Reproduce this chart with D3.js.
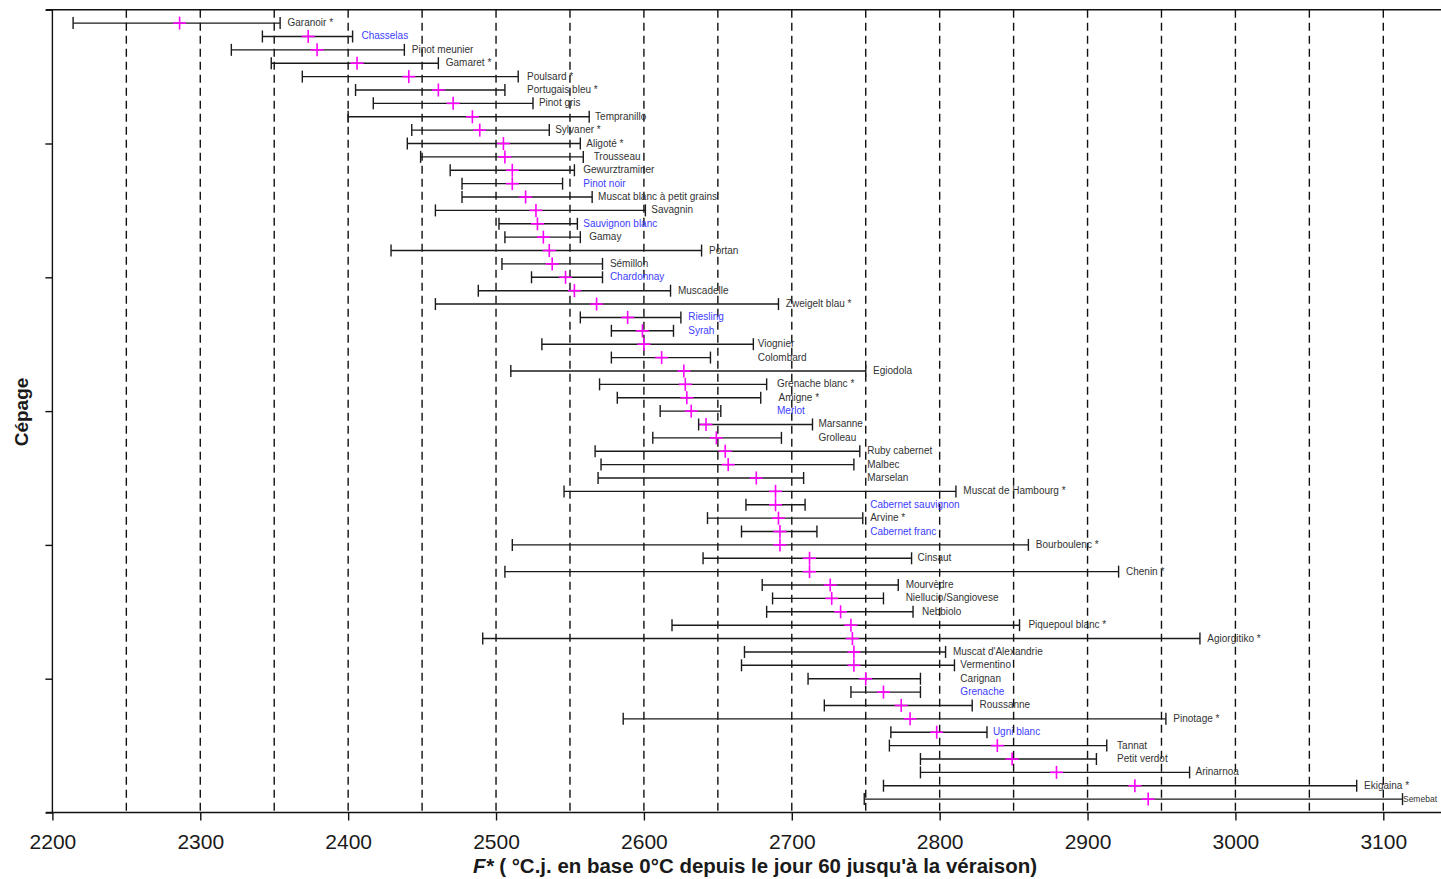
<!DOCTYPE html>
<html>
<head>
<meta charset="utf-8">
<script src="https://cdn.jsdelivr.net/npm/d3@7"></script>
<style>
  html, body { margin: 0; padding: 0; background: #ffffff; }
  svg { display: block; }
  text { font-family: "Liberation Sans", Arial, Helvetica, sans-serif; }
</style>
</head>
<body>
<svg id="chart" width="1441" height="879"></svg>
<script>
// Grape varieties, ordered from earliest to latest véraison (top to bottom)
const varieties = [
  "Garanoir *", "Chasselas", "Pinot meunier", "Gamaret *", "Poulsard *",
  "Portugais bleu *", "Pinot gris", "Tempranillo", "Sylvaner *", "Aligoté *",
  "Trousseau", "Gewurztraminer", "Pinot noir", "Muscat blanc à petit grains", "Savagnin",
  "Sauvignon blanc", "Gamay", "Portan", "Sémillon", "Chardonnay",
  "Muscadelle", "Zweigelt blau *", "Riesling", "Syrah", "Viognier",
  "Colombard", "Egiodola", "Grenache blanc *", "Amigne *", "Merlot",
  "Marsanne", "Grolleau", "Ruby cabernet", "Malbec", "Marselan",
  "Muscat de Hambourg *", "Cabernet sauvignon", "Arvine *", "Cabernet franc", "Bourboulenc *",
  "Cinsaut", "Chenin *", "Mourvèdre", "Niellucio/Sangiovese", "Nebbiolo",
  "Piquepoul blanc *", "Agiorgitiko *", "Muscat d'Alexandrie", "Vermentino", "Carignan",
  "Grenache", "Roussanne", "Pinotage *", "Ugni blanc", "Tannat",
  "Petit verdot", "Arinarnoa", "Ekigaina *", "Semebat"
];

// F* mean (°C.j.) per variety
const meanF = [
  2286, 2373, 2379, 2406, 2441,
  2461, 2471, 2484, 2489, 2505,
  2506, 2511, 2511, 2520, 2527,
  2528, 2532, 2536, 2538, 2547,
  2553, 2568, 2589, 2599, 2600,
  2612, 2627, 2628, 2629, 2632,
  2642, 2649, 2655, 2657, 2676,
  2689, 2689, 2691, 2692, 2692,
  2712, 2712, 2726, 2727, 2733,
  2740, 2741, 2742, 2742, 2750,
  2762, 2774, 2780, 2798, 2839,
  2849, 2879, 2932, 2941
];

// Lower bound of the F* interval
const lowerF = [
  2214, 2342, 2321, 2348, 2369,
  2405, 2417, 2400, 2443, 2440,
  2449, 2469, 2477, 2477, 2459,
  2502, 2506, 2429, 2504, 2524,
  2488, 2459, 2557, 2578, 2531,
  2578, 2510, 2570, 2582, 2611,
  2637, 2606, 2567, 2571, 2569,
  2546, 2669, 2643, 2666, 2511,
  2640, 2506, 2680, 2687, 2683,
  2619, 2491, 2668, 2666, 2711,
  2740, 2722, 2586, 2767, 2766,
  2787, 2787, 2762, 2749
];

// Upper bound of the F* interval
const upperF = [
  2354, 2403, 2438, 2461, 2515,
  2506, 2525, 2563, 2536, 2557,
  2559, 2553, 2545, 2565, 2601,
  2555, 2557, 2639, 2572, 2572,
  2618, 2691, 2625, 2620, 2674,
  2645, 2750, 2683, 2679, 2652,
  2714, 2693, 2746, 2742, 2708,
  2811, 2709, 2748, 2717, 2860,
  2781, 2921, 2772, 2762, 2782,
  2854, 2976, 2804, 2810, 2787,
  2787, 2822, 2953, 2832, 2913,
  2906, 2969, 3082, 3113
];

// F* value at which each variety's name starts
const labelFrom = [
  2359, 2409, 2443, 2466, 2521,
  2521, 2529, 2567, 2540, 2561,
  2566, 2559, 2559, 2569, 2605,
  2559, 2563, 2644, 2577, 2577,
  2623, 2696, 2630, 2630, 2677,
  2677, 2755, 2690, 2691, 2690,
  2718, 2718, 2751, 2751, 2751,
  2816, 2753, 2753, 2753, 2865,
  2785, 2926, 2777, 2777, 2788,
  2860, 2981, 2809, 2814, 2814,
  2814, 2827, 2958, 2836, 2920,
  2920, 2973, 3087, 3116
];

// Varieties whose names are written in blue
const highlighted = [
  "Chasselas", "Pinot noir", "Sauvignon blanc", "Chardonnay", "Riesling", "Syrah",
  "Merlot", "Cabernet sauvignon", "Cabernet franc", "Grenache", "Ugni blanc"
];

// Axis ticks
const xTicks = [2200, 2300, 2400, 2500, 2600, 2700, 2800, 2900, 3000, 3100];
const yTicks = [0, 10, 20, 30, 40, 50, 60];
const gridValues = [2250, 2300, 2350, 2400, 2450, 2500, 2550, 2600, 2650, 2700,
                    2750, 2800, 2850, 2900, 2950, 3000, 3050, 3100, 3150];

const W = 1441;
const svg = d3.select("#chart");

const x = d3.scaleLinear().domain([2200, 3100]).range([52.4, 1383.3]);
const y = d3.scaleLinear().domain([0, 60]).range([812.5, 9.7]);

const n = varieties.length;
const rows = varieties.map((name, i) => ({
  name,
  pos: n - i,
  lo: lowerF[i],
  mean: meanF[i],
  hi: upperF[i],
  labelAt: labelFrom[i],
  blue: highlighted.includes(name)
}));

// Dashed reference lines
svg.append("g")
  .selectAll("line")
  .data(gridValues)
  .join("line")
  .attr("x1", d => x(d)).attr("x2", d => x(d))
  .attr("y1", y(60)).attr("y2", y(0))
  .attr("stroke", "#111")
  .attr("stroke-width", 1.4)
  .attr("stroke-dasharray", "8,5");

// Frame lines (top, left, bottom)
const frame = svg.append("g").attr("stroke", "#111").attr("stroke-width", 1.4);
frame.append("line").attr("x1", 46).attr("x2", W).attr("y1", y(60)).attr("y2", y(60));
frame.append("line").attr("x1", x(2200)).attr("x2", x(2200)).attr("y1", y(60)).attr("y2", y(0) + 1);
frame.append("line").attr("x1", 46).attr("x2", W).attr("y1", y(0)).attr("y2", y(0));

// X axis
const xAxis = svg.append("g")
  .attr("transform", `translate(0,${y(0)})`)
  .call(d3.axisBottom(x).tickValues(xTicks).tickSize(8).tickPadding(14).tickFormat(d3.format("d")));
xAxis.select(".domain").remove();
xAxis.selectAll(".tick line").attr("stroke", "#111").attr("stroke-width", 1.4);
xAxis.selectAll(".tick text")
  .attr("fill", "#1a1a1a")
  .style("font-size", "21px")
  .style("font-family", "'Liberation Sans', Arial, sans-serif");

// Y axis (ticks only, no labels)
const yAxis = svg.append("g")
  .attr("transform", `translate(${x(2200)},0)`)
  .call(d3.axisLeft(y).tickValues(yTicks).tickSize(7).tickFormat(""));
yAxis.select(".domain").remove();
yAxis.selectAll(".tick line").attr("stroke", "#111").attr("stroke-width", 1.4);

// Interval bars with end caps
const bars = svg.append("g").attr("stroke", "#1a1a1a").attr("stroke-width", 1.4);
bars.selectAll("line.range")
  .data(rows)
  .join("line")
  .attr("class", "range")
  .attr("x1", d => x(d.lo)).attr("x2", d => x(d.hi))
  .attr("y1", d => y(d.pos)).attr("y2", d => y(d.pos));
bars.selectAll("line.capLo")
  .data(rows)
  .join("line")
  .attr("class", "capLo")
  .attr("x1", d => x(d.lo)).attr("x2", d => x(d.lo))
  .attr("y1", d => y(d.pos) - 6).attr("y2", d => y(d.pos) + 6);
bars.selectAll("line.capHi")
  .data(rows)
  .join("line")
  .attr("class", "capHi")
  .attr("x1", d => x(d.hi)).attr("x2", d => x(d.hi))
  .attr("y1", d => y(d.pos) - 6).attr("y2", d => y(d.pos) + 6);

// Mean markers (magenta crosses)
const marks = svg.append("g").attr("stroke", "#ff00ff").attr("stroke-width", 1.6);
marks.selectAll("line.h")
  .data(rows)
  .join("line")
  .attr("class", "h")
  .attr("x1", d => x(d.mean) - 6.5).attr("x2", d => x(d.mean) + 6.5)
  .attr("y1", d => y(d.pos)).attr("y2", d => y(d.pos));
marks.selectAll("line.v")
  .data(rows)
  .join("line")
  .attr("class", "v")
  .attr("x1", d => x(d.mean)).attr("x2", d => x(d.mean))
  .attr("y1", d => y(d.pos) - 6.5).attr("y2", d => y(d.pos) + 6.5);

// Variety names
const names = svg.append("g")
  .selectAll("text")
  .data(rows)
  .join("text")
  .attr("x", d => x(d.labelAt))
  .attr("y", d => y(d.pos) - 0.5)
  .attr("dominant-baseline", "central")
  .attr("fill", d => d.blue ? "#3d3dff" : "#333333")
  .style("font-size", "10px")
  .text(d => d.name);

// A name that would run past the right edge gets a smaller font,
// then is nudged left so that it stays whole inside the picture
names.each(function(d) {
  const sel = d3.select(this);
  const right = W - 4;
  let start = x(d.labelAt);
  let len = this.getComputedTextLength();
  if (start + len > right) {
    const size = Math.max(8.5, 10 * (right - start) / len);
    sel.style("font-size", size + "px");
    len = this.getComputedTextLength();
    if (start + len > right) sel.attr("x", right - len);
  }
});

// Axis titles
const xTitle = svg.append("text")
  .attr("x", 755)
  .attr("y", 866)
  .attr("text-anchor", "middle")
  .attr("dominant-baseline", "central")
  .attr("fill", "#1a1a1a")
  .attr("textLength", 564)
  .attr("lengthAdjust", "spacingAndGlyphs")
  .style("font-size", "20px")
  .style("font-weight", "bold");
xTitle.append("tspan").style("font-style", "italic").text("F*");
xTitle.append("tspan").text(" ( °C.j. en base 0°C depuis le jour 60 jusqu'à la véraison)");

svg.append("text")
  .attr("transform", "translate(21,412) rotate(-90)")
  .attr("text-anchor", "middle")
  .attr("dominant-baseline", "central")
  .attr("fill", "#1a1a1a")
  .style("font-size", "19px")
  .style("font-weight", "bold")
  .text("Cépage");
</script>
</body>
</html>
